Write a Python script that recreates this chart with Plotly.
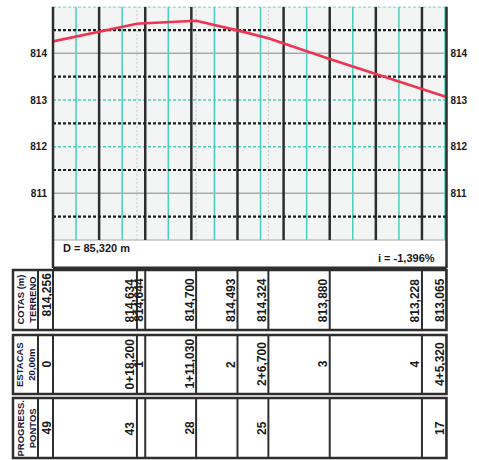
import plotly.graph_objects as go

# ---------------- data ----------------
stations = [0, 18.2, 20, 31.03, 40, 46.7, 60, 80, 85.32]
estacas = ["0", "0+18,200", "1", "1+11,030", "2", "2+6,700", "3", "4", "4+5,320"]
cotas = [814.256, 814.634, 814.644, 814.700, 814.493, 814.324, 813.880, 813.228, 813.065]
pontos_x = [0, 18.2, 31.03, 46.7, 85.32]
pontos = [49, 43, 28, 25, 17]
y_ticks = [811, 812, 813, 814]
y_ticktext = ["811", "812", "813", "814"]
header_labels = ["COTAS (m)<br>TERRENO", "ESTACAS<br>20,00m", "PROGRESS.<br>PONTOS"]

# ---------------- layout helpers ----------------
W, H = 479, 460
def px_x(p):
    return p / W
def px_y(p):
    return 1 - p / H

XD = [px_x(53), px_x(446.5)]
YD = [px_y(268), px_y(6.7)]
Y_LO, Y_HI = 809.4, 815.0
G_LO, G_HI = 810, 815
X_END = stations[-1]

DARK = "#2e2e2e"
TEAL = "#48cfbd"
GREY = "#a9a9a9"
RED = "#ef3350"
FONT = "Liberation Sans"

fig = go.Figure()
fig.add_trace(go.Scatter(x=stations, y=cotas, mode="lines",
                         line=dict(color=RED, width=2.6), hoverinfo="skip",
                         showlegend=False))
fig.add_trace(go.Scatter(x=stations, y=cotas, mode="lines", yaxis="y2",
                         line=dict(color="rgba(0,0,0,0)", width=0),
                         hoverinfo="skip", showlegend=False))

shapes = []
# white strip below the grid
shapes.append(dict(type="rect", xref="x", yref="y", x0=0, x1=X_END, y0=Y_LO, y1=G_LO,
                   fillcolor="white", line=dict(width=0), layer="below"))
# vertical teal lines every 5 m (odd multiples)
v = 5
while v < X_END:
    shapes.append(dict(type="line", xref="x", yref="y", x0=v, x1=v, y0=G_LO, y1=G_HI,
                       line=dict(color=TEAL, width=1.5), layer="below"))
    v += 10
# faint lines at intermediate stations
for s in stations[1:-1]:
    if abs(s / 10 - round(s / 10)) > 1e-6:
        shapes.append(dict(type="line", xref="x", yref="y", x0=s, x1=s, y0=G_LO, y1=G_HI,
                           line=dict(color="#d2d2d2", width=1.2, dash="2px,2px"), layer="below"))
# horizontal lines on integer levels
for lvl in range(G_LO + 1, G_HI + 1):
    if lvl in (811, 814):
        ln = dict(color=GREY, width=1.5)
    else:
        ln = dict(color=TEAL, width=1.5, dash="3px,2px")
    shapes.append(dict(type="line", xref="x", yref="y", x0=0, x1=X_END, y0=lvl, y1=lvl,
                       line=ln, layer="below"))
shapes.append(dict(type="line", xref="x", yref="y", x0=0, x1=X_END, y0=G_LO, y1=G_LO,
                   line=dict(color=GREY, width=1.2), layer="below"))
# vertical dark lines every 10 m
v = 10
while v < X_END:
    shapes.append(dict(type="line", xref="x", yref="y", x0=v, x1=v, y0=G_LO, y1=G_HI,
                       line=dict(color=DARK, width=2.5), layer="below"))
    v += 10
# dark dotted lines on half levels
h = G_LO + 0.5
while h < G_HI:
    shapes.append(dict(type="line", xref="x", yref="y", x0=0, x1=X_END, y0=h, y1=h,
                       line=dict(color="#1e1e1e", width=2.2, dash="3px,2px"), layer="below"))
    h += 1
# plot box borders
shapes.append(dict(type="line", xref="paper", yref="paper", x0=XD[0], x1=XD[0], y0=YD[0], y1=YD[1],
                   line=dict(color=DARK, width=2.5)))
shapes.append(dict(type="line", xref="paper", yref="paper", x0=XD[1], x1=XD[1], y0=YD[0], y1=YD[1],
                   line=dict(color=DARK, width=2.5)))
shapes.append(dict(type="line", xref="paper", yref="paper", x0=XD[0], x1=XD[1], y0=YD[0], y1=YD[0],
                   line=dict(color=DARK, width=3)))

# ---------------- table ----------------
rows = [(270, 330), (335, 394), (398, 458)]
for (top, bot) in rows:
    shapes.append(dict(type="rect", xref="paper", yref="paper", x0=px_x(13), x1=XD[1],
                       y0=px_y(bot), y1=px_y(top), line=dict(color=DARK, width=2.5),
                       fillcolor="white", layer="below"))
    for xp in (38, 53):
        shapes.append(dict(type="line", xref="paper", yref="paper", x0=px_x(xp), x1=px_x(xp),
                           y0=px_y(bot), y1=px_y(top), line=dict(color=DARK, width=2)))
    for s in stations:
        shapes.append(dict(type="line", xref="x", yref="paper", x0=s, x1=s,
                           y0=px_y(bot), y1=px_y(top), line=dict(color=DARK, width=2)))

annotations = []
tfont = dict(family=FONT, size=12, color="#1a1a1a", weight="bold")
hfont = dict(family=FONT, size=9.5, color="#15153a", weight="bold")
# header labels
for lab, (top, bot) in zip(header_labels, rows):
    annotations.append(dict(text=lab, x=px_x(25.5), y=px_y((top + bot) / 2), xref="paper",
                            yref="paper", textangle=-90, showarrow=False, font=hfont,
                            xanchor="center", yanchor="middle", align="center"))
# cotas
for i, (s, c) in enumerate(zip(stations, cotas)):
    txt = f"{c:.3f}".replace(".", ",")
    if i == 0:
        yy, ya = px_y(271), "top"
    else:
        yy, ya = px_y(324), "bottom"
    annotations.append(dict(text=txt, x=s, y=yy, xref="x", yref="paper", textangle=-90,
                            showarrow=False, font=tfont, xanchor="center", yanchor=ya,
                            xshift=-6.5))
# estacas
for s, e in zip(stations, estacas):
    annotations.append(dict(text=e, x=s, y=px_y(364), xref="x", yref="paper", textangle=-90,
                            showarrow=False, font=tfont, xanchor="center", yanchor="middle",
                            xshift=-6.5))
# pontos
for s, p in zip(pontos_x, pontos):
    annotations.append(dict(text=str(p), x=s, y=px_y(428), xref="x", yref="paper",
                            textangle=-90, showarrow=False, font=tfont, xanchor="center",
                            yanchor="middle", xshift=-6.5))

# distance and slope
D = stations[-1]
slope = (cotas[-1] - cotas[0]) / D * 100
sfont = dict(family=FONT, size=11, color="#1a1a1a", weight="bold")
annotations.append(dict(text=f"D = {D:.3f} m".replace(".", ","), x=px_x(61), y=px_y(248),
                        xref="paper", yref="paper", showarrow=False, font=sfont,
                        xanchor="left", yanchor="middle"))
annotations.append(dict(text=f"i = {slope:.3f}%".replace(".", ","), x=px_x(437), y=px_y(258),
                        xref="paper", yref="paper", showarrow=False, font=sfont,
                        xanchor="right", yanchor="middle"))

axfont = dict(family=FONT, size=10, color="#1a1a1a", weight="bold")
fig.update_layout(
    width=W, height=H,
    margin=dict(l=0, r=0, t=0, b=0),
    paper_bgcolor="white",
    plot_bgcolor="#f3f4f4",
    showlegend=False,
    xaxis=dict(domain=XD, range=[0, X_END], showticklabels=False, showgrid=False,
               zeroline=False, showline=False, ticks=""),
    yaxis=dict(domain=YD, range=[Y_LO, Y_HI], tickvals=y_ticks, ticktext=y_ticktext,
               showgrid=False, zeroline=False, showline=False, ticks="",
               ticklabelstandoff=5, tickfont=axfont),
    yaxis2=dict(overlaying="y", side="right", range=[Y_LO, Y_HI], tickvals=y_ticks,
                ticktext=y_ticktext, showgrid=False, zeroline=False, showline=False,
                ticks="", ticklabelstandoff=3, tickfont=axfont),
    shapes=shapes,
    annotations=annotations,
)
fig.write_html("out.html", config={"displayModeBar": False},
               post_script="document.body.style.margin='0';document.body.style.overflow='hidden';")
